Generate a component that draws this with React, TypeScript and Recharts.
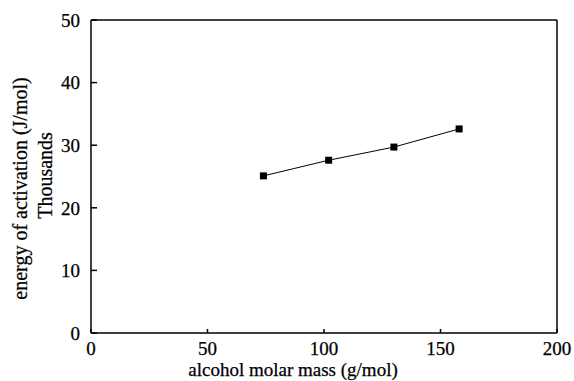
import React from 'react';
import { LineChart, Line, XAxis, YAxis, ReferenceLine } from 'recharts';

const molarMass = [74, 102, 130, 158];
const activationEnergy = [25.1, 27.6, 29.7, 32.6];
const xTicks = [0, 50, 100, 150, 200];
const yTicks = [0, 10, 20, 30, 40, 50];

const data = molarMass.map((m, i) => ({ m, e: activationEnergy[i] }));

const FONT = '"Liberation Serif", "Times New Roman", serif';

const SquareDot = (props: any) => {
  const { cx, cy } = props;
  if (cx == null || cy == null) return null;
  return <rect x={cx - 3.5} y={cy - 3.5} width={7} height={7} fill="#000" />;
};

const XLabel = (props: any) => {
  const vb = props.viewBox;
  return (
    <text x={vb.x + vb.width / 2 - 31} y={vb.y + 43} textAnchor="middle" fontFamily={FONT} fontSize={19} fill="#000" stroke="#000" strokeWidth={0.25}>
      alcohol molar mass (g/mol)
    </text>
  );
};

const YLabel = (props: any) => {
  const vb = props.viewBox;
  const cy = vb.y + vb.height / 2;
  return (
    <g>
      <text x={0} y={0} transform={`translate(27, ${cy + 12}) rotate(-90)`} textAnchor="middle" fontFamily={FONT} fontSize={20} fill="#000" stroke="#000" strokeWidth={0.25}>
        energy of activation (J/mol)
      </text>
      <text x={0} y={0} transform={`translate(52, ${cy - 1}) rotate(-90)`} textAnchor="middle" fontFamily={FONT} fontSize={20} fill="#000" stroke="#000" strokeWidth={0.25}>
        Thousands
      </text>
    </g>
  );
};

export default function App() {
  return (
    <div style={{ position: 'absolute', left: 0, top: 0, background: '#fff' }}>
      <LineChart width={574} height={381} data={data} margin={{ top: 20, right: 17, bottom: 0, left: 0 }}>
        <XAxis
          dataKey="m"
          type="number"
          domain={[0, 200]}
          ticks={xTicks}
          height={48}
          stroke="#000"
          strokeWidth={1.5}
          tickSize={-4}
          tickMargin={13}
          tick={{ fill: '#000', fontFamily: FONT, fontSize: 19, stroke: '#000', strokeWidth: 0.25 }}
          label={<XLabel />}
        />
        <YAxis
          dataKey="e"
          type="number"
          domain={[0, 50]}
          ticks={yTicks}
          width={91}
          stroke="#000"
          strokeWidth={1.5}
          tickSize={-6}
          tickMargin={17}
          tick={{ fill: '#000', fontFamily: FONT, fontSize: 19, stroke: '#000', strokeWidth: 0.25 }}
          label={<YLabel />}
        />
        <ReferenceLine y={50} stroke="#000" strokeWidth={1.5} ifOverflow="visible" />
        <ReferenceLine x={200} stroke="#000" strokeWidth={1.5} ifOverflow="visible" />
        <Line
          dataKey="e"
          stroke="#000"
          strokeWidth={1}
          dot={<SquareDot />}
          activeDot={false}
          isAnimationActive={false}
        />
      </LineChart>
    </div>
  );
}
